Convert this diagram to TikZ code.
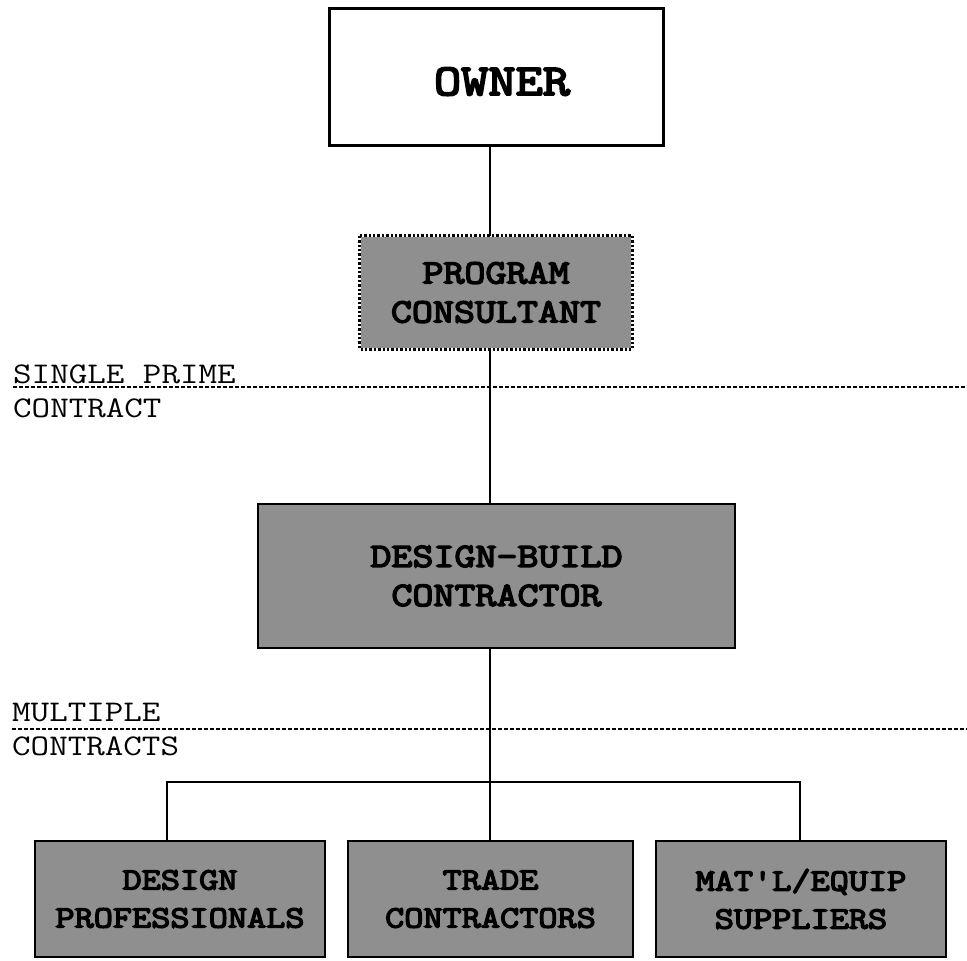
\documentclass[tikz,border=0pt]{standalone}
\usepackage{fontspec}
\newfontfamily\labfont{Latin Modern Mono}[FakeStretch=1.2]
\newfontfamily\boxfont{Latin Modern Mono}[FakeBold=4.5,FakeStretch=1.2]
\begin{document}
\begin{tikzpicture}[x=1pt,y=-1pt,
  shaded/.style={draw=black, fill=black!44, line width=2.6pt, align=center,
    inner sep=0pt, font=\boxfont\fontsize{34}{39}\selectfont},
  lowbox/.style={shaded, minimum width=290pt, minimum height=116pt,
    font=\boxfont\fontsize{31}{38}\selectfont},
  conn/.style={line width=2pt},
  divider/.style={line width=1.8pt, dash pattern=on 4pt off 2pt},
  sidelabel/.style={anchor=base west, inner sep=0pt,
    font=\labfont\fontsize{30}{34}\selectfont}]
\useasboundingbox (0,0) rectangle (967,961);
\fill[white] (0,0) rectangle (967,961);

% boxes
\node[draw=black, line width=3pt, minimum width=334pt, minimum height=137pt,
  inner sep=0pt] (owner) at (496,76.5) {};
\node[anchor=base, inner sep=0pt, font=\boxfont\fontsize{44}{46}\selectfont]
  (ownertext) at (502,95) {OWNER};
\node[shaded, draw=none, minimum width=270pt, minimum height=111pt] (pc) at (496,292.5)
  {PROGRAM\\CONSULTANT};
\draw[line width=2.8pt, dash pattern=on 2.4pt off 2pt]
  (pc.north west) rectangle (pc.south east);
\node[shaded, minimum width=477pt, minimum height=144pt] (db) at (496.5,576)
  {DESIGN-BUILD\\CONTRACTOR};
\node[lowbox] (dp) at (180,899) {DESIGN\\PROFESSIONALS};
\node[lowbox, minimum width=285pt] (tc) at (490.5,899) {TRADE\\CONTRACTORS};
\node[lowbox] (ms) at (801,899) {MAT'L/EQUIP\\SUPPLIERS};

% side labels and dividers
\node[sidelabel] (sp) at (13,383) {SINGLE PRIME};
\node[sidelabel] (ct) at (13,417) {CONTRACT};
\node[sidelabel] (mu) at (12,721) {MULTIPLE};
\node[sidelabel] (cts) at (12,755) {CONTRACTS};
\coordinate (d1a) at (13,387);
\coordinate (d1b) at (967,387);
\coordinate (d2a) at (12,729);
\coordinate (d2b) at (967,729);
\draw[divider] (d1a) -- (d1b);
\draw[divider] (d2a) -- (d2b);

% connectors
\coordinate (spine) at (490,0);
\coordinate (busL) at (167,782);
\coordinate (busR) at (800,782);
\draw[conn] (owner.south -| spine) -- (pc.north -| spine);
\draw[conn] (pc.south -| spine) -- (db.north -| spine);
\draw[conn] (db.south -| spine) -- (tc.north -| spine);
\draw[conn] (busL |- dp.north) -- (busL) -- (busR) -- (busR |- ms.north);
\end{tikzpicture}
\end{document}
